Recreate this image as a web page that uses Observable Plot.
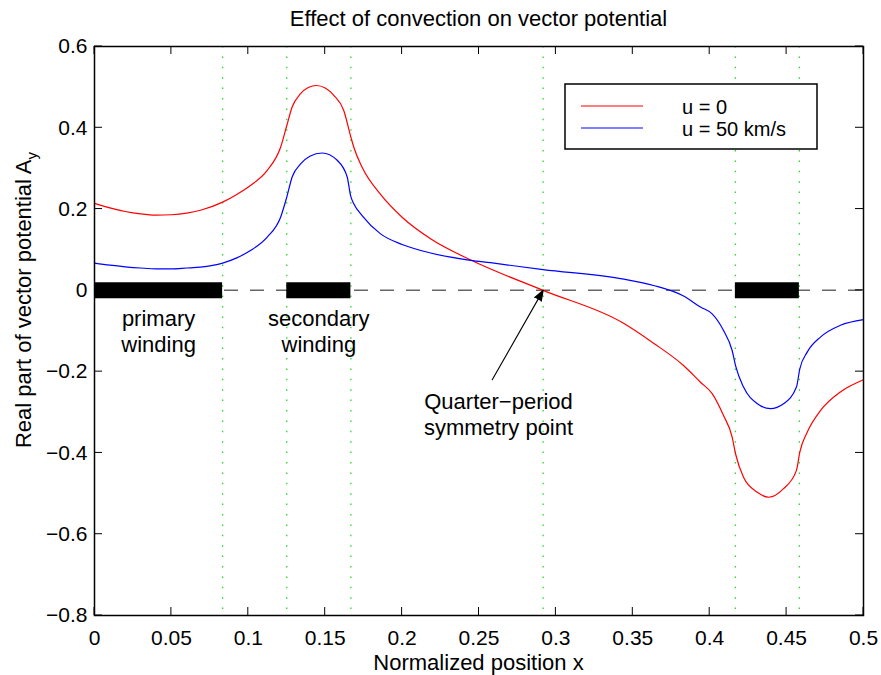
<!DOCTYPE html>
<html>
<head>
<meta charset="utf-8">
<script src="https://cdn.jsdelivr.net/npm/d3@7"></script>
<script src="https://cdn.jsdelivr.net/npm/@observablehq/plot@0.6"></script>
<style>
  html, body { margin: 0; padding: 0; background: white; }
  #chart svg { display: block; }
</style>
</head>
<body>
<div id="chart"></div>
<script>
// ---------- data ----------
const titleText = "Effect of convection on vector potential";
const xLabelText = "Normalized position x";
const yLabelMain = "Real part of vector potential A";
const yLabelSub = "y";

const xTicks = [0, 0.05, 0.1, 0.15, 0.2, 0.25, 0.3, 0.35, 0.4, 0.45, 0.5];
const xTickLabels = ["0", "0.05", "0.1", "0.15", "0.2", "0.25", "0.3", "0.35", "0.4", "0.45", "0.5"];
const yTicks = [-0.8, -0.6, -0.4, -0.2, 0, 0.2, 0.4, 0.6];
const yTickLabels = ["\u22120.8", "\u22120.6", "\u22120.4", "\u22120.2", "0", "0.2", "0.4", "0.6"];

const seriesNames = ["u = 0", "u = 50 km/s"];
const seriesColors = ["#ff0000", "#0000ff"];

// u = 0 (red)
const u0X = [0, 0.01, 0.02, 0.03, 0.04, 0.05, 0.06, 0.0689, 0.0833, 0.0925, 0.1014, 0.1123, 0.121, 0.125,
  0.1285, 0.134, 0.139, 0.1443, 0.150, 0.1556, 0.162, 0.1667, 0.1686, 0.174, 0.186, 0.2, 0.2185, 0.245,
  0.2917, 0.344, 0.3635, 0.383, 0.394, 0.4016, 0.409, 0.4146, 0.4168, 0.422, 0.431, 0.4384, 0.448,
  0.4564, 0.4586, 0.4634, 0.472, 0.485, 0.5];
const u0Y = [0.214, 0.203, 0.194, 0.188, 0.185, 0.186, 0.190, 0.197, 0.217, 0.236, 0.258, 0.295, 0.352, 0.405,
  0.451, 0.484, 0.499, 0.504, 0.498, 0.480, 0.443, 0.377, 0.352, 0.303, 0.236, 0.180, 0.127, 0.074,
  0.0, -0.081, -0.130, -0.185, -0.226, -0.254, -0.308, -0.361, -0.402, -0.460, -0.497, -0.509, -0.488,
  -0.443, -0.398, -0.349, -0.296, -0.250, -0.220];

// u = 50 km/s (blue)
const u50X = [0, 0.01, 0.02, 0.03, 0.04, 0.05, 0.06, 0.0689, 0.0833, 0.0925, 0.1014, 0.1123, 0.121, 0.125,
  0.1285, 0.134, 0.14, 0.148, 0.1578, 0.1643, 0.1665, 0.1686, 0.174, 0.186, 0.2, 0.2185, 0.2445, 0.2575,
  0.2917, 0.342, 0.3635, 0.383, 0.394, 0.4016, 0.409, 0.4146, 0.4168, 0.422, 0.431, 0.4395, 0.448,
  0.4564, 0.4586, 0.4634, 0.472, 0.485, 0.5];
const u50Y = [0.067, 0.062, 0.058, 0.055, 0.053, 0.053, 0.055, 0.057, 0.067, 0.080, 0.098, 0.131, 0.180, 0.229,
  0.279, 0.311, 0.330, 0.338, 0.320, 0.279, 0.233, 0.213, 0.184, 0.139, 0.113, 0.092, 0.074, 0.068,
  0.051, 0.029, 0.012, -0.014, -0.041, -0.058, -0.099, -0.148, -0.185, -0.238, -0.279, -0.291, -0.279,
  -0.238, -0.193, -0.152, -0.115, -0.086, -0.072];

// windings (black bars) and vertical dotted guides
const windingStart = [0, 0.125, 0.4167];
const windingEnd = [0.0833, 0.1667, 0.4583];
const windingLabels = ["primary\nwinding", "secondary\nwinding"];
const guideX = [0.0833, 0.125, 0.1667, 0.2917, 0.4167, 0.4583];

// quarter-period annotation
const quarterLabel = "Quarter\u2212period\nsymmetry point";
const quarterTextAt = [0.2627, -0.247];
const arrowFrom = [0.2586, -0.22];
const arrowTo = [0.2917, 0];

// ---------- build ----------
const font = "'Liberation Sans', Arial, Helvetica, sans-serif";
const u0 = u0X.map((x, i) => ({x, y: u0Y[i]}));
const u50 = u50X.map((x, i) => ({x, y: u50Y[i]}));
const windings = windingStart.map((s, i) => ({s, e: windingEnd[i]}));
const windingText = windingLabels.map((t, i) => ({t, x: (windingStart[i] + windingEnd[i]) / 2}));

const W = 881, H = 675;
const mL = 94, mR = 18, mT = 46, mB = 60;
const tickLen = 8;

const plot = Plot.plot({
  width: W, height: H,
  marginLeft: mL, marginRight: mR, marginTop: mT, marginBottom: mB,
  x: {domain: [0, 0.5]},
  y: {domain: [-0.8, 0.6]},
  style: {fontFamily: font, fontSize: "21px", color: "black", background: "white", overflow: "visible"},
  marks: [
    Plot.ruleX(guideX, {stroke: "#22dd22", strokeWidth: 1.3, strokeDasharray: "1.5,8.9"}),
    Plot.ruleY([0], {stroke: "#666", strokeWidth: 1.5, strokeDasharray: "14,12"}),
    Plot.ruleY(windings, {y: () => 0, x1: "s", x2: "e", stroke: "black", strokeWidth: 16, strokeLinecap: "butt"}),
    Plot.line(u0, {x: "x", y: "y", stroke: seriesColors[0], strokeWidth: 1.2, curve: "monotone-x"}),
    Plot.line(u50, {x: "x", y: "y", stroke: seriesColors[1], strokeWidth: 1.2, curve: "monotone-x"}),
    Plot.arrow([{}], {x1: () => arrowFrom[0], y1: () => arrowFrom[1], x2: () => arrowTo[0], y2: () => arrowTo[1],
      stroke: "black", strokeWidth: 1.1, fill: "black", headLength: 15, headAngle: 40}),
    Plot.text(windingText, {x: "x", y: () => 0, text: "t", dy: 17, lineAnchor: "top", lineHeight: 1.18,
      fontSize: 22, fill: "black"}),
    Plot.text([quarterLabel], {x: () => quarterTextAt[0], y: () => quarterTextAt[1], text: d => d,
      lineAnchor: "top", lineHeight: 1.18, fontSize: 22, fill: "black"}),
    Plot.frame({stroke: "black", strokeWidth: 1.5}),
    Plot.axisX(xTicks, {tickSize: 0, tickPadding: 15, tickFormat: d => xTickLabels[xTicks.indexOf(d)], label: null, fontSize: 21}),
    Plot.axisY(yTicks, {tickSize: 0, tickPadding: 7, tickFormat: d => yTickLabels[yTicks.indexOf(d)], label: null, fontSize: 21})
  ]
});

document.getElementById("chart").appendChild(plot);

const svg = d3.select(plot);
svg.selectAll("g[aria-label='arrow'] path").attr("fill", "black");

// inward tick marks on all four sides, placed with the plot's own scales
const sx = plot.scale("x"), sy = plot.scale("y");
const fTop = mT, fBottom = H - mB, fLeft = mL, fRight = W - mR;
const tg = svg.append("g").attr("stroke", "black").attr("stroke-width", 1);
xTicks.forEach(v => {
  const px = sx.apply(v);
  tg.append("line").attr("x1", px).attr("x2", px).attr("y1", fBottom).attr("y2", fBottom - tickLen);
  tg.append("line").attr("x1", px).attr("x2", px).attr("y1", fTop).attr("y2", fTop + tickLen);
});
yTicks.forEach(v => {
  const py = sy.apply(v);
  tg.append("line").attr("x1", fLeft).attr("x2", fLeft + tickLen).attr("y1", py).attr("y2", py);
  tg.append("line").attr("x1", fRight).attr("x2", fRight - tickLen).attr("y1", py).attr("y2", py);
});

// title
svg.append("text")
  .attr("x", (mL + W - mR) / 2).attr("y", 26)
  .attr("text-anchor", "middle")
  .style("font-family", font).style("font-size", "22px").attr("fill", "black")
  .text(titleText);

// x label
svg.append("text")
  .attr("x", (mL + W - mR) / 2).attr("y", 670)
  .attr("text-anchor", "middle")
  .style("font-family", font).style("font-size", "22px").attr("fill", "black")
  .text(xLabelText);

// y label with subscript
const yl = svg.append("text")
  .attr("transform", `translate(31,300) rotate(-90)`)
  .attr("text-anchor", "middle")
  .style("font-family", font).style("font-size", "22px").attr("fill", "black");
yl.append("tspan").text(yLabelMain);
yl.append("tspan").attr("dy", 6).style("font-size", "15px").text(yLabelSub);

// legend
const lg = svg.append("g");
lg.append("rect").attr("x", 565).attr("y", 84).attr("width", 252).attr("height", 65)
  .attr("fill", "white").attr("stroke", "black").attr("stroke-width", 1.5);
seriesNames.forEach((name, i) => {
  const yy = 106 + i * 22;
  lg.append("line").attr("x1", 581).attr("x2", 643).attr("y1", yy).attr("y2", yy)
    .attr("stroke", seriesColors[i]).attr("stroke-width", 1.2);
  lg.append("text").attr("x", 682).attr("y", yy + 8)
    .attr("text-anchor", "start")
    .style("font-family", font).style("font-size", "20px").attr("fill", "black")
    .text(name);
});
</script>
</body>
</html>
